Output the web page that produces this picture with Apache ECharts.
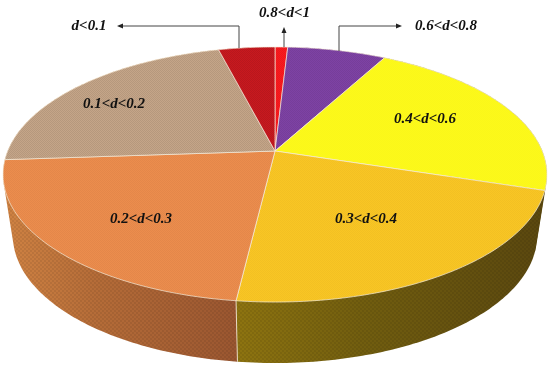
<!DOCTYPE html>
<html><head><meta charset="utf-8">
<style>html,body{margin:0;padding:0;background:#fff}#c{width:550px;height:372px}</style>
<script src="https://cdn.jsdelivr.net/npm/echarts@6/dist/echarts.min.js"></script>
</head><body><div id="c"></div>
<script>
// ---- data ----
const bands = ['0.8<d<1','0.6<d<0.8','0.4<d<0.6','0.3<d<0.4','0.2<d<0.3','0.1<d<0.2','d<0.1'];
const shares = [0.9,7.0,22.0,22.0,22.0,22.1,4.0];

// ---- styles / layout ----
const topColors = ['#FB1A1E','#7E42A4','#FDF91A','#F9C624','#EC8D4D','#C5A588','#C8191F'];
const wallColors = [
  ['#FB1A1E','#FB1A1E','#FB1A1E'],['#7A3E9E','#7A3E9E','#7A3E9E'],['#5E4A0E','#5E4A0E','#5E4A0E'],
  ['#8E7410','#725E0F','#5A470F'],['#D08343','#B56C38','#9A5630'],['#D08343','#D08343','#D08343'],['#C8191F','#C8191F','#C8191F']];
const textureAlpha = [0.06,0.06,0.01,0.03,0.04,0.08,0.08];
const rim = '#F6EEDC';
const topRim = {cx:275,y0:151,a:267.3,b:123.2,c:0.1843};
const lowRim = {cx:275,y0:212,a:257.6,b:123.2,c:0.1843};
const labelPos = {0:[284.5,13],1:[446,26],2:[425,119],3:[366,219],4:[141,219],5:[114,104],6:[89,26]};
const leaders = [
  {pts:[[239,48],[239,26],[122,26]],head:[[117,26],[123,23.5],[123,28.5]]},
  {pts:[[284,47],[284,33]],head:[[284,27],[281.5,33],[286.5,33]]},
  {pts:[[339,51],[339,26],[397,26]],head:[[402,26],[396,23.5],[396,28.5]]}
];

function project(r,deg){
  const t=deg*Math.PI/180,u=Math.sin(t),v=Math.cos(t),k=1+r.c*v;
  return [r.cx+r.a*u/k, r.y0-r.b*v/k];
}
const total=shares.reduce((s,x)=>s+x,0);
const starts=[];shares.reduce((s,x,i)=>(starts[i]=s,s+x),0);
function arc(r,a0,a1){
  const n=Math.max(2,Math.ceil(a1-a0)),out=[];
  for(let i=0;i<=n;i++)out.push(project(r,a0+(a1-a0)*i/n));
  return out;
}
function sliceAngles(i,val){
  const a0=starts[i]/total*360;return [a0,a0+val/total*360];
}
function hull(points){
  const p=points.slice().sort((a,b)=>a[0]-b[0]||a[1]-b[1]);
  const cross=(o,a,b)=>(a[0]-o[0])*(b[1]-o[1])-(a[1]-o[1])*(b[0]-o[0]);
  const half=list=>{const h=[];list.forEach(q=>{
    while(h.length>=2&&cross(h[h.length-2],h[h.length-1],q)<=0)h.pop();h.push(q);});h.pop();return h;};
  return half(p).concat(half(p.slice().reverse()));
}
function makeTexture(cell){
  const cv=document.createElement('canvas');cv.width=cv.height=cell*2;
  const g=cv.getContext('2d');
  g.fillStyle='#000';
  g.fillRect(0,0,cell,cell);g.fillRect(cell,cell,cell,cell);
  return cv;
}
const fineTexture=makeTexture(1), wallTexture=makeTexture(2);

function wallItem(params,api){
  const i=params.dataIndex,[a0,a1]=sliceAngles(i,api.value(0));
  const poly=hull(arc(topRim,a0,a1).concat(arc(lowRim,a0,a1)));
  const grad={type:'linear',x:0,y:0,x2:1,y2:0,colorStops:[
    {offset:0,color:wallColors[i][0]},{offset:0.4,color:wallColors[i][1]},{offset:1,color:wallColors[i][2]}]};
  const kids=[
    {type:'polygon',shape:{points:poly},style:{fill:grad}},
    {type:'polygon',shape:{points:poly},style:{fill:{image:wallTexture,repeat:'repeat'},opacity:0.07}}
  ];
  if(a0>110&&a0<258){
    kids.push({type:'polyline',z2:5,shape:{points:[project(topRim,a0),project(lowRim,a0)]},
      style:{stroke:rim,lineWidth:0.8,fill:null}});
  }
  return {type:'group',children:kids};
}
function topItem(params,api){
  const i=params.dataIndex,[a0,a1]=sliceAngles(i,api.value(0));
  const poly=[[topRim.cx,topRim.y0]].concat(arc(topRim,a0,a1));
  const p=labelPos[i];
  return {type:'group',children:[
    {type:'polygon',shape:{points:poly},style:{fill:topColors[i],stroke:rim,lineWidth:0.7}},
    {type:'polygon',shape:{points:poly},style:{fill:{image:fineTexture,repeat:'repeat'},opacity:textureAlpha[i]}},
    {type:'text',z2:50,x:p[0],y:p[1],style:{text:bands[i],fill:'#111',
      font:'italic bold 15px "Liberation Serif"',align:'center',verticalAlign:'middle'}}
  ]};
}
const graphics=[];
leaders.forEach(l=>{
  graphics.push({type:'polyline',shape:{points:l.pts},style:{stroke:'#444',lineWidth:1,fill:null},z:10});
  graphics.push({type:'polygon',shape:{points:l.head},style:{fill:'#222'},z:10});
});
const chart=echarts.init(document.getElementById('c'),null,{renderer:'canvas'});
chart.setOption({
  animation:false,backgroundColor:'#fff',
  graphic:graphics,
  series:[
    {type:'custom',coordinateSystem:'none',z:1,silent:true,data:shares.map(v=>[v]),renderItem:wallItem},
    {type:'custom',coordinateSystem:'none',z:2,silent:true,data:shares.map(v=>[v]),renderItem:topItem}
  ]
});
</script></body></html>
